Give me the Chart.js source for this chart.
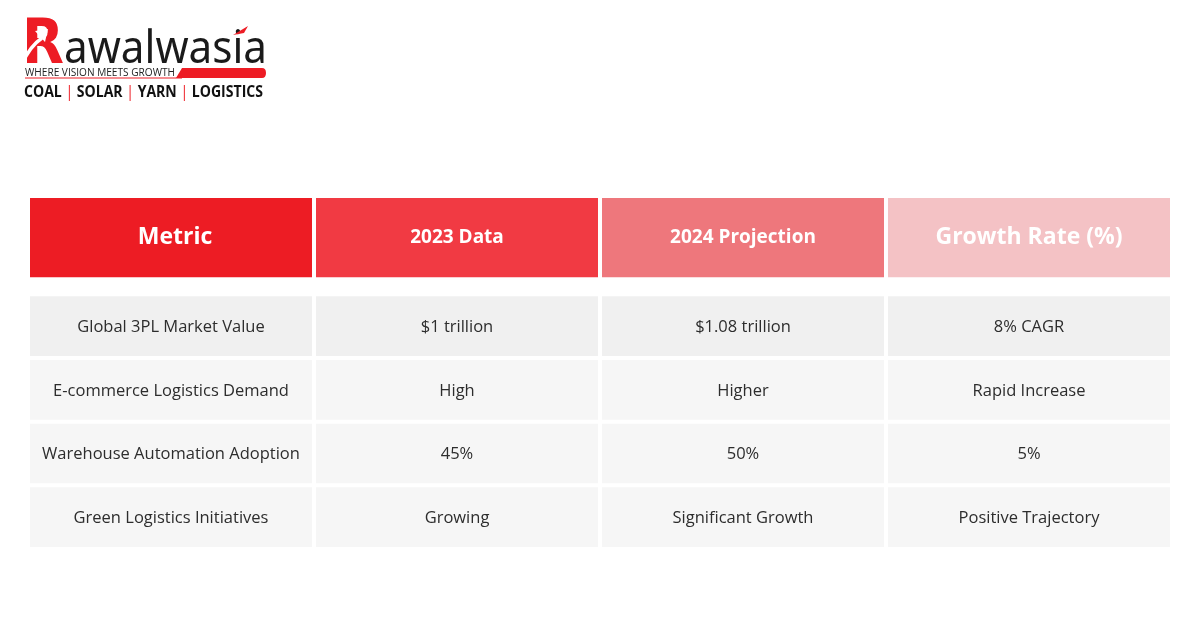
<!DOCTYPE html>
<html>
<head>
<meta charset="utf-8">
<title>3PL Market Metrics</title>
<script src="https://cdn.jsdelivr.net/npm/chart.js@4.4.0/dist/chart.umd.min.js"></script>
<style>
  html, body { margin: 0; padding: 0; background: #fff; }
  #wrap { position: relative; width: 1200px; height: 644px; overflow: hidden; }
  #tbl { position: absolute; left: 0; top: 0; }
  #logo { position: absolute; left: 0; top: 0; }
</style>
</head>
<body>
<div id="wrap">
  <canvas id="tbl" width="1200" height="644"></canvas>
  <svg id="logo" width="300" height="110" viewBox="0 0 300 110">
    <!-- R with arrow -->
    <text x="22" y="63" font-family="DejaVu Sans" font-weight="bold" font-size="62" fill="#ED1C24" textLength="42" lengthAdjust="spacingAndGlyphs">R</text>
    <path d="M22 64 Q30 46 42 38" stroke="#fff" stroke-width="3.5" fill="none"/>
    <path d="M35 31 L48 29 L45 42 Z" fill="#fff"/>
    <text x="64" y="63" font-family="Noto Sans" font-size="46" fill="#1a1a1a" textLength="203" lengthAdjust="spacingAndGlyphs">awalwasia</text>
    <path d="M233 35 L248 26 L244 33 Z" fill="#ED1C24"/>
    <text x="25" y="75.5" font-family="Open Sans" font-size="10.5" fill="#222" textLength="150" lengthAdjust="spacingAndGlyphs">WHERE VISION MEETS GROWTH</text>
    <path d="M25 78 L182 78" stroke="#ED1C24" stroke-width="1"/>
    <path d="M182 68 L262 68 Q266 68 266 73 Q266 78 262 78 L176 78 Z" fill="#ED1C24"/>
    <text x="24" y="97" font-family="Open Sans" font-weight="bold" font-size="15.5" fill="#111" textLength="239" lengthAdjust="spacingAndGlyphs">COAL <tspan fill="#ED1C24" font-weight="normal">|</tspan> SOLAR <tspan fill="#ED1C24" font-weight="normal">|</tspan> YARN <tspan fill="#ED1C24" font-weight="normal">|</tspan> LOGISTICS</text>
  </svg>
</div>
<script>
// table content
const columns = ['Metric', '2023 Data', '2024 Projection', 'Growth Rate (%)'];
const metrics = ['Global 3PL Market Value', 'E-commerce Logistics Demand', 'Warehouse Automation Adoption', 'Green Logistics Initiatives'];
const data2023 = ['$1 trillion', 'High', '45%', 'Growing'];
const projection2024 = ['$1.08 trillion', 'Higher', '50%', 'Significant Growth'];
const growthRate = ['8% CAGR', 'Rapid Increase', '5%', 'Positive Trajectory'];

const bodyColumns = [metrics, data2023, projection2024, growthRate];

// look
const headerColors = ['#ED1C24', '#F13A43', '#EE777C', '#F4C2C5'];
const rowColors = ['#F0F0F0', '#F6F6F6', '#F6F6F6', '#F6F6F6'];
const headerFonts = [23, 19, 19, 23];

// row layout in table units (y scale, top = 0)
const HEADER_H = 79;
const BODY_TOP = 98;
const ROW_PITCH = 63.5;
const ROW_H = 59.5;

const datasets = [{
  label: 'header',
  data: columns.map(() => [0, HEADER_H]),
  backgroundColor: headerColors
}];
metrics.forEach(function(m, i) {
  const top = BODY_TOP + i * ROW_PITCH;
  datasets.push({
    label: 'row' + i,
    data: columns.map(() => [top, top + ROW_H]),
    backgroundColor: rowColors[i]
  });
});

const cellText = {
  id: 'cellText',
  afterDatasetsDraw(chart) {
    const ctx = chart.ctx;
    ctx.save();
    ctx.textAlign = 'center';
    ctx.textBaseline = 'middle';
    chart.data.datasets.forEach(function(ds, di) {
      chart.getDatasetMeta(di).data.forEach(function(bar, ci) {
        const cy = (bar.y + bar.base) / 2;
        if (di === 0) {
          ctx.fillStyle = '#fff';
          ctx.font = 'bold ' + headerFonts[ci] + 'px "Open Sans"';
          ctx.fillText(columns[ci], bar.x + (ci === 0 ? 4 : 0), cy);
        } else {
          ctx.fillStyle = '#2d2d2d';
          ctx.font = '16.5px "Open Sans"';
          ctx.fillText(bodyColumns[ci][di - 1], bar.x, cy + 1);
        }
      });
    });
    ctx.restore();
  }
};

new Chart(document.getElementById('tbl'), {
  type: 'bar',
  data: { labels: columns, datasets: datasets },
  options: {
    responsive: false,
    animation: false,
    layout: { padding: { left: 28, right: 28, top: 198, bottom: 97 } },
    datasets: {
      bar: {
        grouped: false,
        categoryPercentage: 1,
        barPercentage: 282 / 286,
        borderWidth: 0,
        borderSkipped: false
      }
    },
    scales: {
      x: { display: false },
      y: { display: false, reverse: true, min: 0, max: BODY_TOP + 3 * ROW_PITCH + ROW_H }
    },
    plugins: {
      legend: { display: false },
      tooltip: { enabled: false }
    }
  },
  plugins: [cellText]
});
</script>
</body>
</html>
